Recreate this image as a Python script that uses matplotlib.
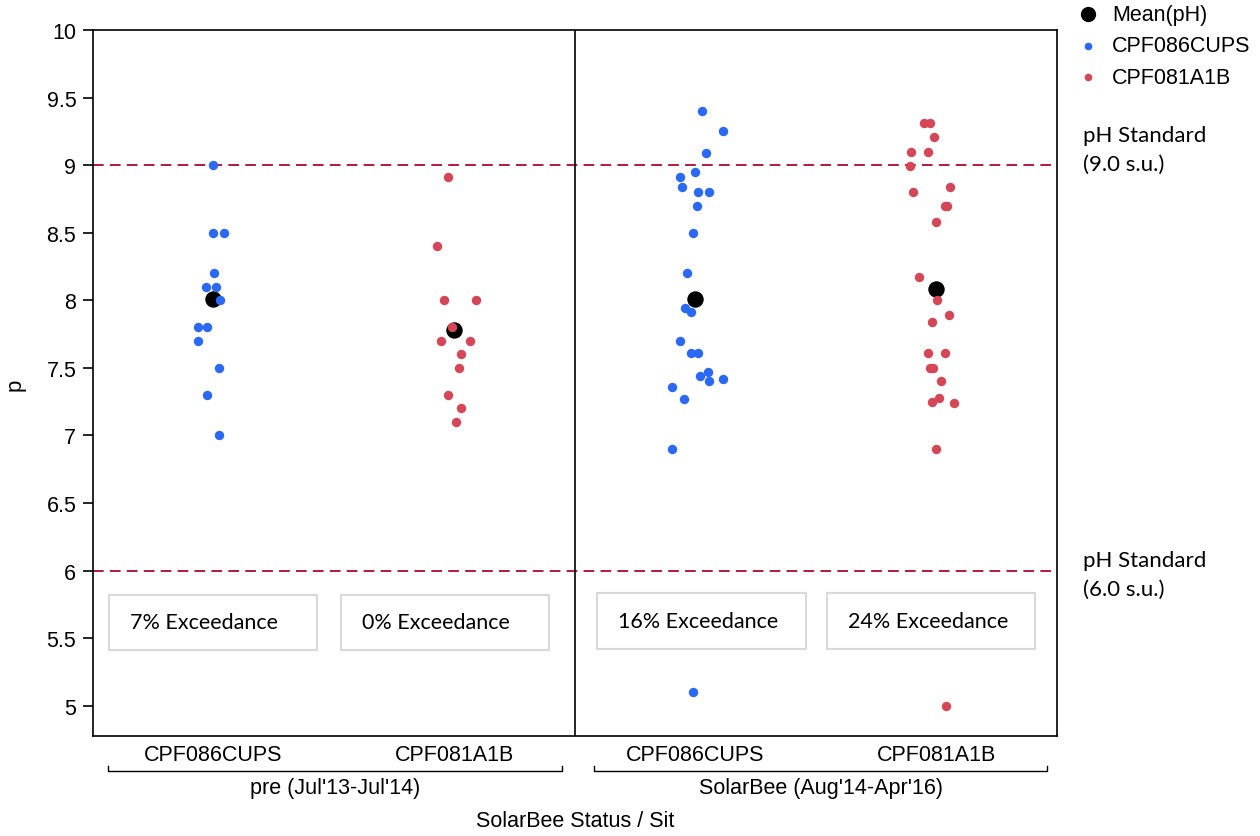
"""pH by SolarBee status and site (jittered points with group means)
"""

import matplotlib as mpl
import matplotlib.pyplot as plt
from matplotlib.lines import Line2D
from matplotlib.patches import Rectangle

mpl.rcParams['font.family'] = ['Liberation Sans', 'DejaVu Sans']

# ---- data ----
sites = ['CPF086CUPS', 'CPF081A1B', 'CPF086CUPS', 'CPF081A1B']
periods = ["pre (Jul'13-Jul'14)", "SolarBee (Aug'14-Apr'16)"]

ph_pre_cups = [9.0, 8.5, 8.5, 8.2, 8.1, 8.1, 8.0, 7.8, 7.8, 7.7, 7.5, 7.3, 7.0]
ph_pre_a1b = [8.91, 8.4, 8.0, 8.0, 7.8, 7.7, 7.7, 7.6, 7.5, 7.3, 7.2, 7.1]
ph_sb_cups = [9.40, 9.25, 9.09, 8.95, 8.91, 8.84, 8.80, 8.80, 8.70, 8.50, 8.20,
              7.94, 7.91, 7.70, 7.61, 7.61, 7.47, 7.44, 7.40, 7.42, 7.36, 7.27,
              6.90, 5.10]
ph_sb_a1b = [9.31, 9.31, 9.21, 9.10, 9.10, 8.99, 8.84, 8.80, 8.70, 8.70, 8.58,
             8.17, 8.00, 7.89, 7.84, 7.61, 7.61, 7.50, 7.50, 7.40, 7.25, 7.28,
             7.24, 6.90, 5.00]

# horizontal jitter of each point, in category units
jit_pre_cups = [-0.004, -0.004, 0.044, 0.004, -0.033, 0.012, 0.027, -0.064,
                -0.025, -0.064, 0.021, -0.025, 0.021]
jit_pre_a1b = [-0.026, -0.073, -0.042, 0.089, -0.012, -0.057, 0.066, 0.027,
               0.019, -0.026, 0.027, 0.005]
jit_sb_cups = [0.027, 0.113, 0.044, -0.003, -0.064, -0.057, 0.012, 0.057,
               0.005, -0.012, -0.034, -0.042, -0.019, -0.064, -0.019, 0.012,
               0.051, 0.019, 0.057, 0.113, -0.096, -0.049, -0.096, -0.010]
jit_sb_a1b = [-0.051, -0.027, -0.012, -0.105, -0.035, -0.111, 0.057, -0.096,
              0.034, 0.042, -0.003, -0.073, 0.003, 0.051, -0.020, -0.034,
              0.035, -0.027, -0.013, 0.019, -0.020, 0.012, 0.074, -0.003, 0.039]

mean_ph = [8.01, 7.78, 8.01, 8.08]
exceedance = ['7% Exceedance', '0% Exceedance', '16% Exceedance',
              '24% Exceedance']
standards = [9.0, 6.0]

blue, red = '#2a69f3', '#d54656'
std_color = '#b3173c'

fig = plt.figure(figsize=(12.6, 8.37), dpi=100)
W, H = 1260, 837
ax = fig.add_axes([93 / W, (H - 737) / H, (1057 - 93) / W, (737 - 31) / H])

# group means first, points on top
ax.scatter(range(1, 5), mean_ph, s=140, color='black', zorder=3,
           linewidths=0)

groups = [(ph_pre_cups, jit_pre_cups, blue), (ph_pre_a1b, jit_pre_a1b, red),
          (ph_sb_cups, jit_sb_cups, blue), (ph_sb_a1b, jit_sb_a1b, red)]
for i, (vals, jit, col) in enumerate(groups):
    ax.scatter([i + 1 + j for j in jit], vals, s=46, color=col, zorder=4,
               linewidths=0)

for s in standards:
    ax.axhline(s, color=std_color, ls=(0, (5.5, 3.2)), lw=1.4, zorder=2)
ax.axvline(2.5, color='black', lw=1.2, zorder=2)

# exceedance boxes
box_left = [0.566, 1.528, 2.593, 3.544]
box_bot = [5.409, 5.409, 5.422, 5.422]
for bl, bb, txt in zip(box_left, box_bot, exceedance):
    ax.add_patch(Rectangle((bl, bb), 0.865, 0.414, facecolor='white',
                           edgecolor='#d9d9d9', lw=1.5, zorder=5))
    ax.text(bl + 0.087, bb + 0.207, txt, ha='left', va='center',
            fontsize=15.5, family=['Lato', 'DejaVu Sans'], zorder=6)

ax.set_xlim(0.5, 4.5)
ax.set_ylim(4.776, 10)
ax.set_yticks([5, 5.5, 6, 6.5, 7, 7.5, 8, 8.5, 9, 9.5, 10])
ax.set_yticklabels(['5', '5.5', '6', '6.5', '7', '7.5', '8', '8.5', '9',
                    '9.5', '10'])
ax.set_xticks(range(1, 5))
ax.set_xticklabels(sites)
ax.tick_params(axis='y', length=7, width=1.2, labelsize=15.5, pad=5)
ax.tick_params(axis='x', length=0, labelsize=15.5, pad=6)
for sp in ax.spines.values():
    sp.set_linewidth(1.2)

# period brackets under the site labels
tr = ax.get_xaxis_transform()
for (x0, x1), lab in zip([(0.561, 2.448), (2.58, 4.46)], periods):
    ax.plot([x0, x0, x1, x1], [-0.042, -0.050, -0.050, -0.042], color='black',
            lw=1.0, transform=tr, clip_on=False)
    ax.text((x0 + x1) / 2, -0.058, lab, ha='center', va='top', fontsize=15.5,
            transform=tr)

fig.text(575 / W, 1 - 822 / H, 'SolarBee Status / Sit', ha='center',
         va='center', fontsize=15.5)
fig.text(15 / W, 1 - 385 / H, 'p', ha='center', va='center', rotation=90,
         fontsize=16)

# standard annotations on the right
for s, lab in zip(standards, ['pH Standard\n(9.0 s.u.)',
                              'pH Standard\n(6.0 s.u.)']):
    ytop = 1 - (126 if s == 9.0 else 551) / H
    fig.text(1083 / W, ytop, lab, ha='left', va='top', fontsize=16,
             family=['Lato', 'DejaVu Sans'], linespacing=1.55)

# legend drawn by hand
leg = [('Mean(pH)', 'black', 11), ('CPF086CUPS', blue, 5.5),
       ('CPF081A1B', red, 5.5)]
for k, (lab, col, ms) in enumerate(leg):
    yy = 1 - (15 + 31.5 * k) / H
    fig.add_artist(Line2D([1088 / W], [yy], marker='o', color=col, ms=ms,
                          mew=0, transform=fig.transFigure))
    fig.text(1112 / W, yy, lab, ha='left', va='center', fontsize=15.5)

plt.savefig('out.png', dpi=100)
